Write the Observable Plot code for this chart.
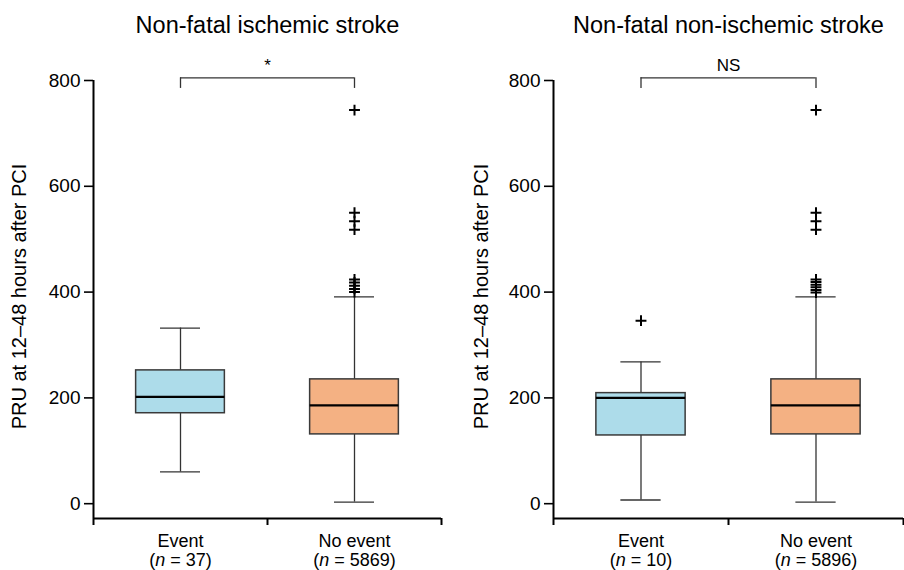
<!DOCTYPE html>
<html>
<head>
<meta charset="utf-8">
<script src="https://cdn.jsdelivr.net/npm/d3@7"></script>
<script src="https://cdn.jsdelivr.net/npm/@observablehq/plot@0.6"></script>
<style>
  html, body { margin: 0; padding: 0; background: #fff; }
  #wrap { display: flex; width: 904px; height: 570px; }
  #wrap svg { font-family: "Liberation Sans", Arial, sans-serif; }
</style>
</head>
<body>
<div id="wrap"></div>
<script>
// ---- data ----
const panelTitles = ["Non-fatal ischemic stroke", "Non-fatal non-ischemic stroke"];
const sigLabels = ["*", "NS"];
const groups = ["Event", "No event"];
const groupN = [[37, 5869], [10, 5896]];
const whiskerLow = [[60, 3], [7, 3]];
const q1 = [[171, 131], [129, 131]];
const median = [[202, 186], [200, 186]];
const q3 = [[252, 235], [209, 235]];
const whiskerHigh = [[332, 391], [268, 391]];
const outliersIschemicEvent = [];
const outliersIschemicNoEvent = [744, 550, 534, 518, 424, 418, 412, 406, 400];
const outliersNonIschemicEvent = [346];
const outliersNonIschemicNoEvent = [744, 550, 534, 518, 424, 419, 414, 409, 404, 399];
const outliers = [[outliersIschemicEvent, outliersIschemicNoEvent], [outliersNonIschemicEvent, outliersNonIschemicNoEvent]];
const yTicks = [0, 200, 400, 600, 800];
const yLabel = "PRU at 12\u201348 hours after PCI";
const bracketLow = 785, bracketHigh = 805;
const boxColors = ["#ADDCEA", "#F4B183"];

const yMin = -28, yMax = 800;
const boxHalf = 0.255, capHalf = 0.115;

function panel(p, marginLeft, marginRight, labelDx) {
  const rows = groups.map((g, i) => ({
    i, g, n: groupN[p][i],
    lo: whiskerLow[p][i], q1: q1[p][i], med: median[p][i], q3: q3[p][i], hi: whiskerHigh[p][i]
  }));
  const outRows = outliers[p].flatMap((vals, i) => vals.map(v => ({i, v})));
  const svg = Plot.plot({
    width: 452, height: 570,
    marginLeft, marginRight, marginTop: 80, marginBottom: 52,
    style: {fontFamily: "Liberation Sans, Arial, sans-serif", color: "#000", background: "#fff"},
    x: {type: "linear", domain: [-0.5, 1.5]},
    y: {domain: [yMin, yMax]},
    marks: [
      // axes
      Plot.axisY({ticks: yTicks, tickSize: 9, tickPadding: 4, fontSize: 19, label: null, strokeWidth: 1.6}),
      Plot.axisX({ticks: [-0.5, 0.5, 1.5], tickSize: 7, tickFormat: () => "", label: null, strokeWidth: 2}),
      Plot.axisX({ticks: [0, 1], tickSize: 0, tickPadding: 14, fontSize: 18, lineHeight: 1.1, label: null,
        tickFormat: i => `${groups[i]}\n(n = ${groupN[p][i]})`}),
      Plot.ruleX([-0.5], {y1: yMin, y2: yMax, strokeWidth: 2}),
      Plot.ruleY([yMin], {strokeWidth: 2}),
      // whiskers
      Plot.ruleX(rows, {x: "i", y1: "lo", y2: "q1", stroke: "#333", strokeWidth: 1.3}),
      Plot.ruleX(rows, {x: "i", y1: "q3", y2: "hi", stroke: "#333", strokeWidth: 1.3}),
      Plot.ruleY(rows, {y: "lo", x1: d => d.i - capHalf, x2: d => d.i + capHalf, stroke: "#333", strokeWidth: 1.3}),
      Plot.ruleY(rows, {y: "hi", x1: d => d.i - capHalf, x2: d => d.i + capHalf, stroke: "#333", strokeWidth: 1.3}),
      // boxes
      Plot.rectY(rows, {x1: d => d.i - boxHalf, x2: d => d.i + boxHalf, y1: "q1", y2: "q3",
        fill: d => boxColors[d.i], stroke: "#3a3a3a", strokeWidth: 1.5}),
      Plot.ruleY(rows, {y: "med", x1: d => d.i - boxHalf, x2: d => d.i + boxHalf, stroke: "#000", strokeWidth: 2.2}),
      // outliers
      Plot.dot(outRows, {x: "i", y: "v", symbol: "plus", r: 3.6, stroke: "#000", strokeWidth: 2}),
      // bracket
      Plot.ruleY([bracketHigh], {x1: 0, x2: 1, stroke: "#333", strokeWidth: 1.3}),
      Plot.ruleX([0, 1], {y1: bracketLow, y2: bracketHigh, stroke: "#333", strokeWidth: 1.3}),
      Plot.text([sigLabels[p]], {x: 0.5, y: bracketHigh, dy: -7, lineAnchor: "bottom", fontSize: 17}),
      // title and y label
      Plot.text([panelTitles[p]], {frameAnchor: "top", lineAnchor: "middle", textAnchor: "middle", dy: -55, fontSize: 23.5}),
      Plot.text([yLabel], {frameAnchor: "left", lineAnchor: "middle", textAnchor: "middle", rotate: -90, dx: labelDx, dy: -3, fontSize: 20})
    ]
  });
  // italic "n" in group labels
  d3.select(svg).selectAll("tspan").each(function() {
    const t = this.textContent;
    if (t.startsWith("(n = ")) {
      const rest = t.slice(2);
      this.textContent = "(";
      const it = document.createElementNS("http://www.w3.org/2000/svg", "tspan");
      it.setAttribute("font-style", "italic");
      it.textContent = "n";
      this.appendChild(it);
      const r = document.createElementNS("http://www.w3.org/2000/svg", "tspan");
      r.textContent = rest;
      this.appendChild(r);
    }
  });
  return svg;
}

const wrap = document.getElementById("wrap");
wrap.appendChild(panel(0, 93, 11, -74));
wrap.appendChild(panel(1, 101, 1, -72));
</script>
</body>
</html>
